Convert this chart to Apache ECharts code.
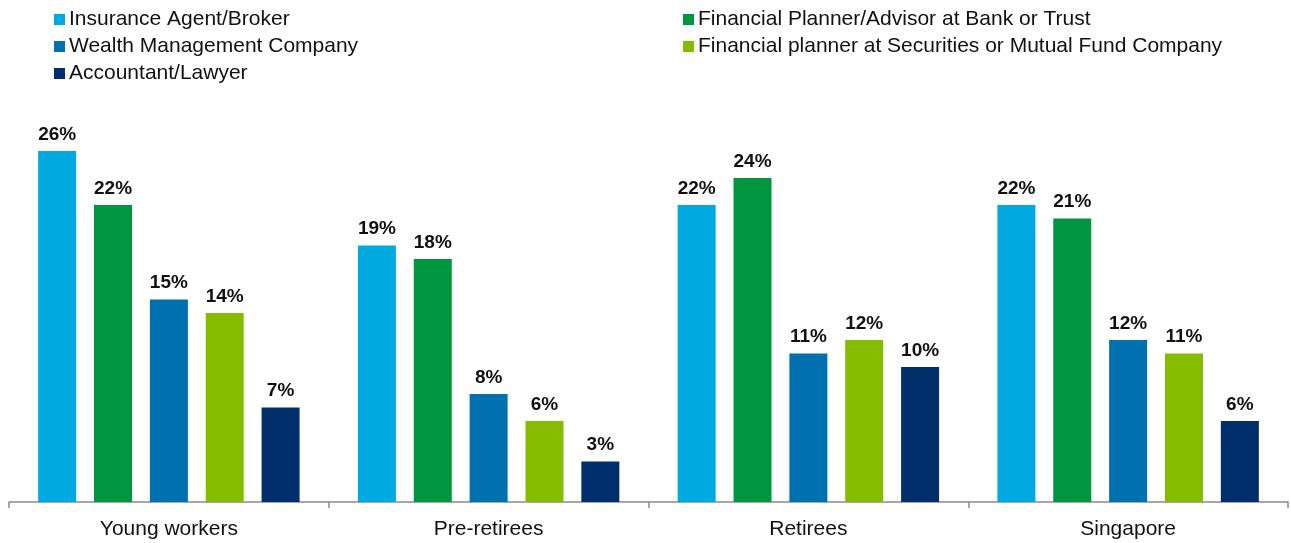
<!DOCTYPE html>
<html>
<head>
<meta charset="utf-8">
<title>Preferred source of financial advice</title>
<script src="https://cdn.jsdelivr.net/npm/echarts@6/dist/echarts.min.js"></script>
<style>
  html, body { margin: 0; padding: 0; background: #ffffff; }
  #chart { width: 1291px; height: 543px; }
</style>
</head>
<body>
<div id="chart"></div>
<script>
// Segments on the x axis
const categories = ['Young workers', 'Pre-retirees', 'Retirees', 'Singapore'];

// Share of respondents (%) per advice source
const insuranceAgent = [26, 19, 22, 22];
const bankPlanner = [22, 18, 24, 21];
const wealthMgmt = [15, 8, 11, 12];
const securitiesPlanner = [14, 6, 12, 11];
const accountantLawyer = [7, 3, 10, 6];

const seriesNames = [
  'Insurance Agent/Broker',
  'Financial Planner/Advisor at Bank or Trust',
  'Wealth Management Company',
  'Financial planner at Securities or Mutual Fund Company',
  'Accountant/Lawyer'
];
const seriesValues = [insuranceAgent, bankPlanner, wealthMgmt, securitiesPlanner, accountantLawyer];
const seriesColors = ['#00A9E0', '#00963F', '#0071AE', '#86BC00', '#002F6C'];

const fontFamily = 'Liberation Sans, Arial, sans-serif';

const chart = echarts.init(document.getElementById('chart'), null, { renderer: 'canvas' });

const legendText = { fontFamily: fontFamily, fontSize: 21, color: '#111111', padding: [0, 0, 0, -1] };

chart.setOption({
  animation: false,
  backgroundColor: '#ffffff',
  legend: [
    {
      orient: 'vertical',
      left: 49,
      top: 9,
      padding: [0, 5],
      itemWidth: 11,
      itemHeight: 11,
      itemGap: 6,
      icon: 'rect',
      textStyle: legendText,
      data: [seriesNames[0], seriesNames[2], seriesNames[4]]
    },
    {
      orient: 'vertical',
      left: 678,
      top: 9,
      padding: [0, 5],
      itemWidth: 11,
      itemHeight: 11,
      itemGap: 6,
      icon: 'rect',
      textStyle: legendText,
      data: [seriesNames[1], seriesNames[3]]
    }
  ],
  grid: { left: 9, right: 3, top: 97, bottom: 41, containLabel: false },
  xAxis: {
    type: 'category',
    data: categories,
    boundaryGap: true,
    axisLine: { lineStyle: { color: '#8c8c8c', width: 1.5 } },
    axisTick: { show: true, length: 6, lineStyle: { color: '#8c8c8c', width: 1.5 } },
    axisLabel: { fontFamily: fontFamily, fontSize: 21, color: '#111111', margin: 17 }
  },
  yAxis: {
    type: 'value',
    min: 0,
    max: 30,
    show: false,
    splitLine: { show: false }
  },
  series: seriesNames.map((name, i) => ({
    name: name,
    type: 'bar',
    data: seriesValues[i],
    barWidth: 38,
    barGap: '47%',
    itemStyle: { color: seriesColors[i] },
    label: {
      show: true,
      position: 'top',
      distance: 7,
      formatter: '{c}%',
      fontFamily: fontFamily,
      fontSize: 19,
      fontWeight: 'bold',
      color: '#111111'
    }
  }))
});
</script>
</body>
</html>
